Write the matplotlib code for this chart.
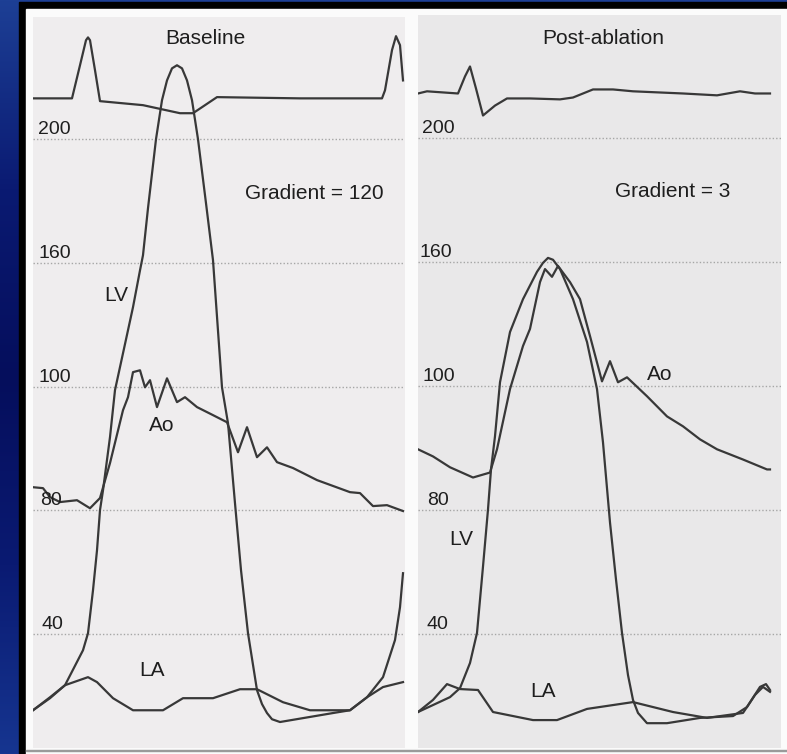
#!/usr/bin/env python

import numpy as np
import matplotlib.pyplot as plt
from matplotlib.colors import LinearSegmentedColormap
from matplotlib.patches import Rectangle

plt.rcParams['font.family'] = ['Liberation Sans', 'DejaVu Sans']

# pressure scale markings (drawn evenly spaced, labelled as on the recorder)
grid_pos = [40, 80, 120, 160, 200]
grid_labels = ['40', '80', '100', '160', '200']

# ---- Baseline (time in ms, pressure in scale units) ----
base_ecg_t = [0, 78, 94, 106, 110, 114, 124, 134, 220, 294, 320, 368, 534, 698, 704, 718, 726, 734, 740]
base_ecg_p = [213.2, 213.2, 223.9, 232.0, 232.9, 232.0, 222.3, 212.3, 211.0, 208.4, 208.4, 213.6, 213.2, 213.2,
              215.8, 228.8, 233.3, 230.4, 219.0]

base_lv_t = [0, 34, 64, 100, 110, 120, 128, 134, 140, 154, 164, 180, 200, 214, 220, 230, 246, 258, 268, 278,
             288, 298, 308, 318, 330, 346, 360, 378, 390, 404, 416, 430, 448, 458, 468, 478, 494, 600, 634, 668,
             700, 724, 734, 740]
base_lv_p = [15.4, 19.3, 23.5, 34.8, 40.3, 54.2, 67.1, 80.1, 86.5, 103.7, 118.9, 130.8, 145.7, 157.6, 162.5,
             177.7, 200.0, 212.6, 219.0, 222.9, 223.9, 222.9, 219.0, 212.6, 200.0, 179.3, 160.9, 119.8, 108.2,
             82.3, 60.7, 40.3, 21.9, 17.4, 14.5, 12.5, 11.6, 14.5, 15.4, 19.6, 26.1, 38.1, 48.7, 59.7]

base_ao_t = [0, 20, 34, 54, 88, 114, 134, 154, 180, 190, 200, 214, 224, 234, 248, 268, 288, 304, 328, 360,
             388, 410, 428, 448, 468, 488, 520, 568, 634, 654, 680, 708, 740]
base_ao_p = [87.5, 87.2, 84.3, 82.7, 83.3, 80.7, 84.0, 95.3, 112.4, 116.6, 124.7, 125.3, 119.8, 122.1, 113.4,
             122.7, 115.0, 116.6, 113.4, 110.8, 108.5, 98.8, 106.9, 97.2, 100.4, 95.6, 93.7, 89.8, 85.9, 85.6,
             81.4, 81.7, 79.8]

base_la_t = [0, 34, 64, 110, 128, 160, 200, 260, 300, 360, 414, 448, 500, 554, 634, 668, 700, 740]
base_la_p = [15.4, 19.6, 23.5, 26.1, 24.5, 19.3, 15.4, 15.4, 19.3, 19.3, 22.2, 22.2, 18.0, 15.4, 15.4, 19.6,
             22.9, 24.5]

# ---- Post-ablation ----
post_ecg_t = [0, 18, 80, 94, 104, 116, 130, 154, 178, 224, 284, 310, 350, 390, 430, 530, 598, 644, 674, 704]
post_ecg_p = [214.2, 214.9, 214.2, 219.7, 222.9, 215.8, 207.1, 210.3, 212.6, 212.6, 212.3, 212.9, 215.5,
              215.5, 214.9, 214.2, 213.6, 214.9, 214.2, 214.2]

post_lv_t = [0, 64, 84, 104, 118, 130, 140, 146, 154, 164, 184, 210, 238, 250, 260, 270, 284, 310, 338, 358,
             370, 384, 396, 408, 420, 430, 440, 458, 498, 564, 630, 658, 684, 696, 704]
post_lv_p = [14.8, 19.6, 22.5, 30.6, 40.3, 61.7, 80.1, 93.0, 103.7, 121.1, 137.3, 147.9, 156.7, 159.6, 161.2,
             160.6, 157.6, 147.9, 134.1, 118.9, 101.7, 75.9, 57.5, 40.3, 26.7, 18.7, 14.5, 11.2, 11.2, 12.9,
             13.5, 16.4, 22.9, 23.8, 21.9]

post_ao_t = [0, 30, 64, 110, 144, 158, 184, 210, 224, 244, 254, 268, 280, 304, 324, 344, 368, 384, 400, 418,
             458, 498, 530, 564, 598, 650, 698, 704]
post_ao_p = [99.5, 97.2, 93.7, 90.4, 92.0, 99.5, 118.9, 132.8, 138.3, 153.4, 157.6, 155.1, 158.6, 153.4, 147.9,
             136.0, 121.4, 127.9, 121.1, 122.7, 116.6, 110.1, 106.9, 102.7, 99.5, 96.2, 93.0, 93.0]

post_la_t = [0, 30, 58, 84, 120, 150, 230, 278, 338, 430, 510, 578, 650, 674, 690, 704]
post_la_p = [14.8, 18.7, 23.8, 22.2, 21.9, 14.8, 12.2, 12.2, 15.8, 18.0, 14.8, 12.9, 14.5, 20.3, 22.9, 21.3]

TRACE = '#383838'
INK = '#1e1e1e'


def draw_panel(ax, span, bg, label_x, traces, titles, names):
    ax.set_facecolor(bg)
    ax.set_xlim(0, span)
    ax.set_ylim(3.2, 239.5)
    for s in ax.spines.values():
        s.set_visible(False)
    ax.set_xticks([])
    ax.set_yticks([])

    for g, lab, lx in zip(grid_pos, grid_labels, label_x):
        ax.axhline(g, color='#a6a6a6', lw=1.0, ls=(0, (1, 1.5)), zorder=1)
        ax.text(lx, g + 1.6, lab, fontsize=14, color=INK, ha='left', va='baseline', zorder=3)

    for t, p in traces:
        ax.plot(t, p, color=TRACE, lw=1.6, solid_joinstyle='round', zorder=2)

    for txt, x, y in titles + names:
        ax.text(x, y, txt, fontsize=15, color=INK, ha='center', va='center', zorder=3)


def main():
    fig = plt.figure(figsize=(7.87, 7.54), dpi=100)
    fig.patch.set_facecolor('#0a1a6c')

    # blue slide backdrop down the left edge
    bg = fig.add_axes([0, 0, 1, 1])
    bg.set_zorder(-10)
    bg.axis('off')
    cmap = LinearSegmentedColormap.from_list('slide', ['#1d3f95', '#0a1a72', '#050e5c', '#0a1a72', '#163590'])
    bg.imshow(np.linspace(0, 1, 256).reshape(-1, 1), cmap=cmap, aspect='auto', extent=[0, 1, 0, 1])

    # black frame and white mount behind the two recordings
    fig.patches.append(Rectangle((19 / 787, 0), 1, 752 / 754, transform=fig.transFigure,
                                 color='black', zorder=-3))
    fig.patches.append(Rectangle((26 / 787, 0), 1, 745 / 754, transform=fig.transFigure,
                                 color='#fbfbfb', zorder=-2))
    fig.patches.append(Rectangle((26 / 787, 3 / 754), 1, 1.2 / 754, transform=fig.transFigure,
                                 color='#9a9a9a', zorder=-1))

    ax1 = fig.add_axes([33 / 787, 6 / 754, 372 / 787, 731 / 754])
    ax2 = fig.add_axes([418 / 787, 6 / 754, 363 / 787, 733 / 754])

    draw_panel(ax1, 744, '#efedee', [18, 14, 10, 10, 10],
               [(base_ecg_t, base_ecg_p), (base_lv_t, base_lv_p),
                (base_ao_t, base_ao_p), (base_la_t, base_la_p)],
               [('Baseline', 344, 232.6), ('Gradient = 120', 562, 182.5)],
               [('LV', 166, 149.6), ('Ao', 258, 107.5), ('LA', 238, 28.4)])

    draw_panel(ax2, 726, '#e9e8e9', [18, 18, 10, 4, 8],
               [(post_ecg_t, post_ecg_p), (post_lv_t, post_lv_p),
                (post_ao_t, post_ao_p), (post_la_t, post_la_p)],
               [('Post-ablation', 370, 232.0), ('Gradient = 3', 510, 182.5)],
               [('LV', 86, 70.4), ('Ao', 484, 123.7), ('LA', 250, 21.3)])

    fig.savefig('out.png', dpi=100, facecolor=fig.get_facecolor())


if __name__ == '__main__':
    main()
